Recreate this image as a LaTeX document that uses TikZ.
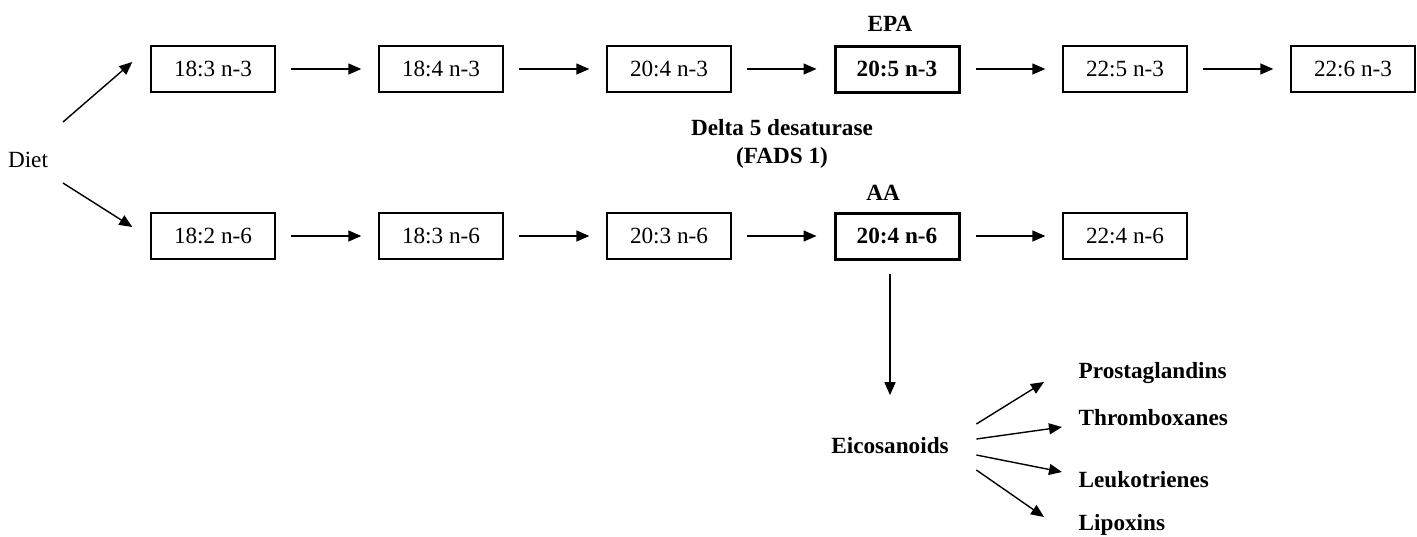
\documentclass[tikz,border=0pt]{standalone}
\usepackage{fontspec}
\setmainfont{Liberation Serif}
\usetikzlibrary{arrows.meta}
\begin{document}
\begin{tikzpicture}[x=0.5pt, y=-0.5pt, line width=0.7pt,
  every node/.style={font=\fontsize{11.6}{14}\selectfont},
  tip/.style={-{Triangle[length=6.5pt,width=5.5pt]}},
  arr/.style={tip, shorten <=7.5pt, shorten >=8.5pt},
  acid/.style={draw, minimum width=62pt, minimum height=23pt, inner sep=0pt},
  key/.style={acid, line width=1.5pt, font=\fontsize{11.6}{14}\selectfont\bfseries},
  lbl/.style={font=\fontsize{11.6}{14}\selectfont\bfseries}]
\useasboundingbox (0,0) rectangle (1417,536);

% Nahrung
\node (diet) at (28,160) {Diet};

% n-3 Reihe
\node[acid] (n3a) at (213,69) {18:3 n-3};
\node[acid] (n3b) at (441,69) {18:4 n-3};
\node[acid] (n3c) at (669,69) {20:4 n-3};
\node[key]  (n3d) at (897,69) {20:5 n-3};
\node[acid] (n3e) at (1125,69) {22:5 n-3};
\node[acid] (n3f) at (1353,69) {22:6 n-3};

% n-6 Reihe
\node[acid] (n6a) at (213,236) {18:2 n-6};
\node[acid] (n6b) at (441,236) {18:3 n-6};
\node[acid] (n6c) at (669,236) {20:3 n-6};
\node[key]  (n6d) at (897,236) {20:4 n-6};
\node[acid] (n6e) at (1125,236) {22:4 n-6};

% Beschriftungen
\node[lbl] (epa) at (890,24) {EPA};
\node[lbl, align=center] (enz) at (782,144) {Delta 5 desaturase\\(FADS 1)};
\node[lbl] (aa) at (883,193) {AA};

% Eicosanoide
\node[lbl, inner sep=0pt] (eico) at (890,446) {Eicosanoids};
\node[lbl, inner sep=0pt, anchor=west] (pg) at (1078,373) {Prostaglandins};
\node[lbl, inner sep=0pt, anchor=west] (tx) at (1078,418) {Thromboxanes};
\node[lbl, inner sep=0pt, anchor=west] (lt) at (1078,480) {Leukotrienes};
\node[lbl, inner sep=0pt, anchor=west] (lx) at (1078,525) {Lipoxins};

% Pfeile
\draw[tip] ([shift={(35,-38)}]diet.center) -- ([shift={(-18,-7)}]n3a.west);
\draw[tip] ([shift={(35,23)}]diet.center) -- ([shift={(-18,-9)}]n6a.west);

\draw[arr] (n3a) -- (n3b);
\draw[arr] (n3b) -- (n3c);
\draw[arr] (n3c) -- (n3d);
\draw[arr] (n3d) -- (n3e);
\draw[arr] (n3e) -- (n3f);

\draw[arr] (n6a) -- (n6b);
\draw[arr] (n6b) -- (n6c);
\draw[arr] (n6c) -- (n6d);
\draw[arr] (n6d) -- (n6e);

\draw[tip, shorten <=6.5pt, shorten >=21pt] (n6d.south -| eico.north) -- (eico.north);

\draw[tip] ([shift={(27,-22)}]eico.east) -- ([shift={(-34,9)}]pg.west);
\draw[tip] ([shift={(27,-7)}]eico.east) -- ([shift={(-16,9)}]tx.west);
\draw[tip] ([shift={(27,9)}]eico.east) -- ([shift={(-16,-8)}]lt.west);
\draw[tip] ([shift={(27,24)}]eico.east) -- ([shift={(-34,-8)}]lx.west);
\end{tikzpicture}
\end{document}
